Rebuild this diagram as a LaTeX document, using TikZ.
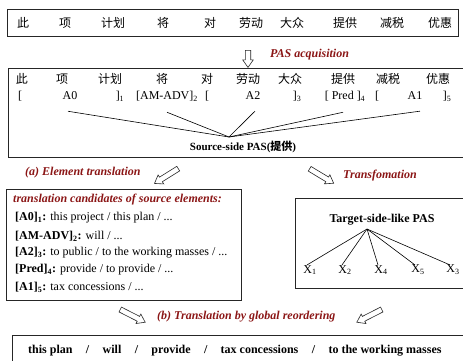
\documentclass[tikz,border=0pt]{standalone}
\usepackage{fontspec}
\setmainfont{Liberation Serif}
\newfontfamily\cjk{Noto Sans CJK SC}
\usetikzlibrary{positioning,shapes.arrows}
\definecolor{pasred}{RGB}{139,22,22}

\begin{document}
\begin{tikzpicture}[x=1pt, y=-1pt, every node/.style={
    inner sep=0pt,
    font=\fontsize{12}{14}\selectfont
},
    frame/.style={draw=black!85, line width=0.75pt},
    zh/.style={font=\cjk\fontsize{12}{14}\selectfont},
    steplabel/.style={text=pasred, anchor=west, font=\bfseries\itshape\fontsize{12}{14}\selectfont},
    boldtext/.style={font=\bfseries\fontsize{12}{14}\selectfont},
    outword/.style={boldtext, text height=9pt, text depth=3pt},
    hollow/.style={single arrow, draw=black!85, fill=white, line width=0.6pt,
        minimum height=28pt, inner sep=2.4pt, single arrow head extend=2.6pt,
        single arrow tip angle=70}
]
    \useasboundingbox (0,0) rectangle (463,360);

    % source sentence
    \draw[frame] (7,9) rectangle (458,36);
    \foreach \w/\x [count=\i] in {此/23, 项/65, 计划/113, 将/163, 对/210, 劳动/251, 大众/292, 提供/345, 减税/392, 优惠/440}
        \node[zh] (top\i) at (\x,23) {\w};

    \node[hollow, minimum height=17pt, rotate=-90] (acq_arrow) at (248,57) {};
    \node[steplabel] (acq_label) at (270,55) {PAS acquisition};

    % source-side PAS
    \draw[frame] (8,68) rectangle (468,157);
    \foreach \w/\x [count=\i] in {此/22, 项/62, 计划/110, 将/162, 对/207, 劳动/248, 大众/290, 提供/343, 减税/388, 优惠/438}
        \node[zh] (mid\i) at (\x,79) {\w};

    \node (lb1) at (20,96) {[};
    \node (a0) at (70,96) {A0};
    \node (rb1) at (120,96) {]\textsubscript{1}};
    \node (amadv) at (167,96) {[AM-ADV]\textsubscript{2}};
    \node (lb3) at (207,96) {[};
    \node (a2) at (253,96) {A2};
    \node (rb3) at (297,96) {]\textsubscript{3}};
    \node (pred) at (345,96) {[ Pred ]\textsubscript{4}};
    \node (lb5) at (377,96) {[};
    \node (a1) at (415,96) {A1};
    \node (rb5) at (447,96) {]\textsubscript{5}};

    \coordinate (src_apex) at (229,137);
    \foreach \n/\dx in {a0/-2, amadv/0, a2/2, pred/-2, a1/5}
        \draw[line width=0.6pt] ([xshift=\dx pt, yshift=-11pt]\n.south) -- (src_apex);
    \node[font=\bfseries\fontsize{11}{13}\selectfont] (src_pas) at (243,147) {Source-side PAS({\cjk 提供})};

    \node[hollow, rotate=212] (elem_arrow) at (168,175) {};
    \node[steplabel] (elem_label) at (25,173) {(a) Element translation};
    \node[hollow, rotate=329] (trf_arrow) at (320,175) {};
    \node[steplabel] (trf_label) at (343,176) {Transfomation};

    % translation candidates
    \draw[frame] (6,189) rectangle (241,300);
    \node[steplabel] (cand_title) at (13,200) {translation candidates of source elements:};
    \node[anchor=west] (cand1) at (15,218) {\textbf{[A0]\textsubscript{1}:} this project / this plan / ...};
    \node[anchor=west] (cand2) at (15,236) {\textbf{[AM-ADV]\textsubscript{2}:} will / ...};
    \node[anchor=west] (cand3) at (15,253) {\textbf{[A2]\textsubscript{3}:} to public / to the working masses / ...};
    \node[anchor=west] (cand4) at (15,270) {\textbf{[Pred]\textsubscript{4}:} provide / to provide / ...};
    \node[anchor=west] (cand5) at (15,287) {\textbf{[A1]\textsubscript{5}:} tax concessions / ...};

    % target-side-like PAS
    \draw[frame] (295,198) rectangle (470,288);
    \node[boldtext] (tgt_pas) at (382,220) {Target-side-like PAS};
    \coordinate (tgt_apex) at (367,229);
    \foreach \k/\x in {1/310, 2/345, 4/381, 5/418, 3/453}
    {
        \node (x\k) at (\x,270) {X\textsubscript{\k}};
        \draw[line width=0.6pt] (tgt_apex) -- ([xshift=-3pt]x\k.north);
    }

    \node[hollow, rotate=-27] (left_arrow) at (131,315) {};
    \node[hollow, rotate=207] (right_arrow) at (371,315) {};
    \node[steplabel] (reorder_label) at (157,317) {(b) Translation by global reordering};

    % final translation
    \draw[frame] (12,335) rectangle (470,372);
    \node[outword, anchor=west] (out1) at (28,350) {this plan};
    \node[outword, right=13pt of out1] (sl1) {/};
    \node[outword, right=13pt of sl1] (out2) {will};
    \node[outword, right=13pt of out2] (sl2) {/};
    \node[outword, right=13pt of sl2] (out3) {provide};
    \node[outword, right=13pt of out3] (sl3) {/};
    \node[outword, right=13pt of sl3] (out4) {tax concessions};
    \node[outword, right=13pt of out4] (sl4) {/};
    \node[outword, right=13pt of sl4] (out5) {to the working masses};
\end{tikzpicture}
\end{document}
